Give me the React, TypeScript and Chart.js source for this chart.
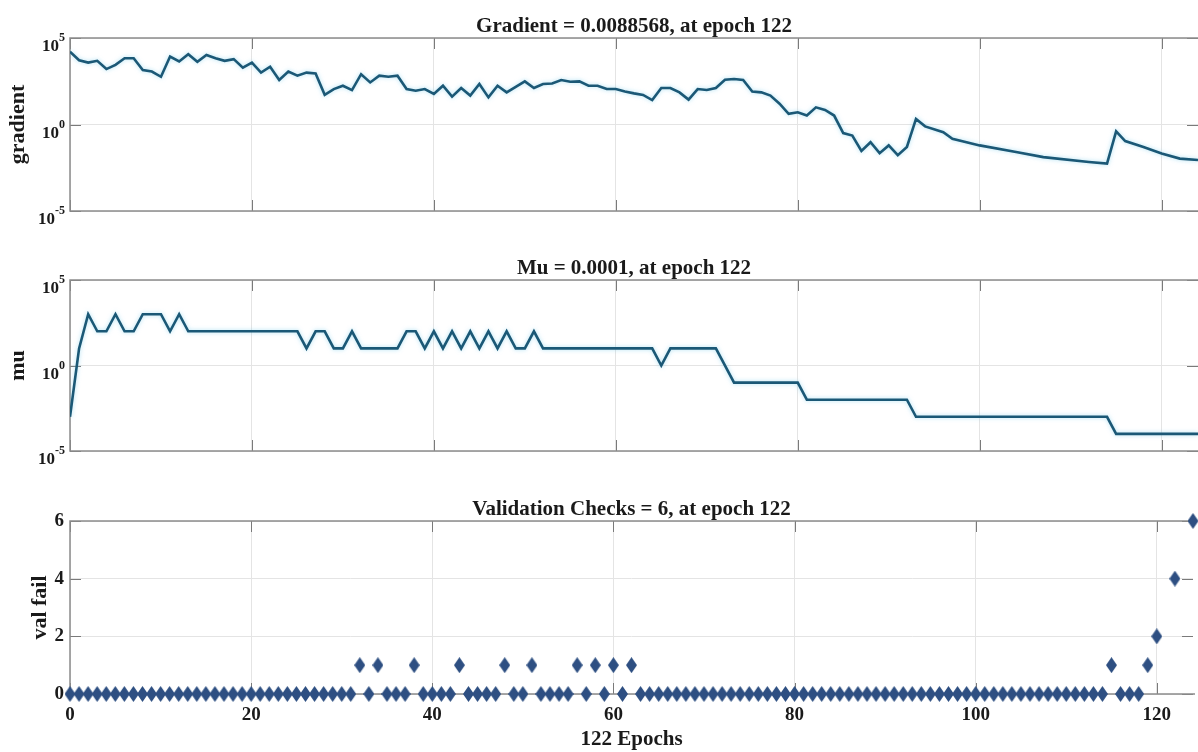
import { useEffect, useRef } from 'react';
import { Chart, registerables } from 'chart.js';

Chart.register(...registerables);

// Shared epoch axis
const xTicks = [0, 20, 40, 60, 80, 100, 120];
const xMin = 0;
const xMax = 124;

// Gradient per epoch (log axis)
const gradEpochs = [
  0, 1, 2, 3, 4, 5, 6, 7, 8, 9, 10, 11, 12, 13, 14, 15, 16, 17, 18, 19,
  20, 21, 22, 23, 24, 25, 26, 27, 28, 29, 30, 31, 32, 33, 34, 35, 36, 37, 38, 39,
  40, 41, 42, 43, 44, 45, 46, 47, 48, 49, 50, 51, 52, 53, 54, 55, 56, 57, 58, 59,
  60, 61, 62, 63, 64, 65, 66, 67, 68, 69, 70, 71, 72, 73, 74, 75, 76, 77, 78, 79,
  80, 81, 82, 83, 84, 85, 86, 87, 88, 89, 90, 91, 92, 93, 94, 96, 97, 100, 104, 107,
  112, 114, 115, 116, 118, 120, 122, 124,
];
const gradValues = [
  16000, 5200, 3800, 4800, 1600, 2800, 6800, 6800, 1400, 1150, 575, 8500, 4400, 11500, 4200, 10500, 6800, 4800, 6000, 1950,
  3800, 1000, 2200, 370, 1150, 660, 1000, 890, 52, 112, 174, 98, 810, 270, 660, 575, 660, 112, 89, 112,
  58, 174, 41, 129, 47, 219, 37, 174, 72, 151, 309, 129, 219, 234, 372, 295, 309, 174, 174, 112,
  112, 81, 63, 51, 26, 129, 129, 72, 27.5, 112, 98, 129, 390, 427, 372, 81, 72, 47, 16, 4.1,
  5.1, 3.3, 9.8, 6.9, 3.3, 0.32, 0.23, 0.03, 0.095, 0.022, 0.062, 0.017, 0.05, 2.1, 0.78, 0.36, 0.15, 0.062, 0.026, 0.013,
  0.0068, 0.0055, 0.4, 0.11, 0.05, 0.021, 0.0107, 0.0088568,
];

// Mu per epoch (log axis)
const muEpochs = [
  0, 1, 2, 3, 4, 5, 6, 7, 8, 10, 11, 12, 13, 25, 26, 27, 28, 29, 30, 31,
  32, 36, 37, 38, 39, 40, 41, 42, 43, 44, 45, 46, 47, 48, 49, 50, 51, 52, 64, 65,
  66, 71, 73, 80, 81, 92, 93, 114, 115, 124,
];
const muValues = [
  1e-3, 1e1, 1e3, 1e2, 1e2, 1e3, 1e2, 1e2, 1e3, 1e3, 1e2, 1e3, 1e2, 1e2, 1e1, 1e2, 1e2, 1e1, 1e1, 1e2,
  1e1, 1e1, 1e2, 1e2, 1e1, 1e2, 1e1, 1e2, 1e1, 1e2, 1e1, 1e2, 1e1, 1e2, 1e1, 1e1, 1e2, 1e1, 1e1, 1e0,
  1e1, 1e1, 1e-1, 1e-1, 1e-2, 1e-2, 1e-3, 1e-3, 1e-4, 1e-4,
];

// Validation failures per epoch
const valEpochs = [
  0, 1, 2, 3, 4, 5, 6, 7, 8, 9, 10, 11, 12, 13, 14, 15, 16, 17, 18, 19,
  20, 21, 22, 23, 24, 25, 26, 27, 28, 29, 30, 31, 32, 33, 34, 35, 36, 37, 38, 39,
  40, 41, 42, 43, 44, 45, 46, 47, 48, 49, 50, 51, 52, 53, 54, 55, 56, 57, 58, 59,
  60, 61, 62, 63, 64, 65, 66, 67, 68, 69, 70, 71, 72, 73, 74, 75, 76, 77, 78, 79,
  80, 81, 82, 83, 84, 85, 86, 87, 88, 89, 90, 91, 92, 93, 94, 95, 96, 97, 98, 99,
  100, 101, 102, 103, 104, 105, 106, 107, 108, 109, 110, 111, 112, 113, 114, 115, 116, 117, 118, 119,
  120, 122, 124,
];
const valFail = [
  0, 0, 0, 0, 0, 0, 0, 0, 0, 0, 0, 0, 0, 0, 0, 0, 0, 0, 0, 0,
  0, 0, 0, 0, 0, 0, 0, 0, 0, 0, 0, 0, 1, 0, 1, 0, 0, 0, 1, 0,
  0, 0, 0, 1, 0, 0, 0, 0, 1, 0, 0, 1, 0, 0, 0, 0, 1, 0, 1, 0,
  1, 0, 1, 0, 0, 0, 0, 0, 0, 0, 0, 0, 0, 0, 0, 0, 0, 0, 0, 0,
  0, 0, 0, 0, 0, 0, 0, 0, 0, 0, 0, 0, 0, 0, 0, 0, 0, 0, 0, 0,
  0, 0, 0, 0, 0, 0, 0, 0, 0, 0, 0, 0, 0, 0, 0, 1, 0, 0, 0, 1,
  2, 4, 6,
];

// Axis ticks and labels
const logTicks = [1e-5, 1, 1e5];
const logTickExponents = ['-5', '0', '5'];
const valTicks = [0, 2, 4, 6];

const plotTitles = [
  'Gradient = 0.0088568, at epoch 122',
  'Mu = 0.0001, at epoch 122',
  'Validation Checks = 6, at epoch 122',
];
const yTitles = ['gradient', 'mu', 'val fail'];
const xTitle = '122 Epochs';

const SERIF = '"Liberation Serif", "Times New Roman", serif';
const LINE_COLOR = '#1b5876';
const MARKER_COLOR = '#2e4f82';
const GRID_COLOR = '#e4e4e4';
const TEXT_COLOR = '#1a1a1a';

function makeDiamond(): HTMLCanvasElement {
  const c = document.createElement('canvas');
  c.width = 11;
  c.height = 16;
  const g = c.getContext('2d')!;
  g.fillStyle = MARKER_COLOR;
  g.beginPath();
  g.moveTo(5.5, 0);
  g.lineTo(11, 8);
  g.lineTo(5.5, 16);
  g.lineTo(0, 8);
  g.closePath();
  g.fill();
  return c;
}

// Box around the plot area with inward tick marks, a centred title and 10^n labels
const axesBox = {
  id: 'axesBox',
  beforeDatasetsDraw(chart: any) {
    const { ctx, chartArea: a, scales } = chart;
    const xs = scales.x;
    const ys = scales.y;
    ctx.save();
    ctx.strokeStyle = '#7a7a7a';
    ctx.lineWidth = 1;
    ctx.beginPath();
    for (const t of xs.ticks) {
      const px = Math.round(xs.getPixelForValue(t.value)) + 0.5;
      ctx.moveTo(px, a.top);
      ctx.lineTo(px, a.top + 11);
      ctx.moveTo(px, a.bottom);
      ctx.lineTo(px, a.bottom - 11);
    }
    for (const t of ys.ticks) {
      const py = Math.round(ys.getPixelForValue(t.value)) + 0.5;
      ctx.moveTo(a.left, py);
      ctx.lineTo(a.left + 11, py);
      ctx.moveTo(a.right, py);
      ctx.lineTo(a.right - 11, py);
    }
    ctx.stroke();
    // left, top and bottom edges of the box (right edge sits on the canvas edge)
    ctx.strokeStyle = '#8c8c8c';
    ctx.lineWidth = 1.5;
    ctx.beginPath();
    ctx.moveTo(a.right + 2, a.top);
    ctx.lineTo(a.left, a.top);
    ctx.lineTo(a.left, a.bottom);
    ctx.lineTo(a.right + 2, a.bottom);
    ctx.stroke();
    ctx.restore();
  },
  beforeDatasetDraw(chart: any, _args: any, opts: any) {
    if (opts.glow) {
      chart.ctx.shadowColor = 'rgba(110, 200, 235, 0.55)';
      chart.ctx.shadowBlur = 4;
    }
  },
  afterDatasetDraw(chart: any) {
    chart.ctx.shadowColor = 'rgba(0,0,0,0)';
    chart.ctx.shadowBlur = 0;
  },
  afterDraw(chart: any, _args: any, opts: any) {
    const { ctx, chartArea: a, scales } = chart;
    ctx.save();
    ctx.fillStyle = TEXT_COLOR;
    if (opts.title) {
      ctx.font = `bold 21px ${SERIF}`;
      ctx.textAlign = 'center';
      ctx.textBaseline = 'alphabetic';
      ctx.fillText(opts.title, (a.left + a.right) / 2, a.top - 6);
    }
    if (opts.logLabels) {
      const ys = scales.y;
      logTicks.forEach((v, i) => {
        const py = ys.getPixelForValue(v);
        const exp = logTickExponents[i];
        ctx.font = `bold 12px ${SERIF}`;
        const ew = ctx.measureText(exp).width;
        const right = a.left - 5;
        ctx.textAlign = 'left';
        ctx.textBaseline = 'alphabetic';
        ctx.fillText(exp, right - ew, py + 3);
        ctx.font = `bold 17px ${SERIF}`;
        ctx.textAlign = 'right';
        ctx.fillText('10', right - ew, py + 13);
      });
    }
    ctx.restore();
  },
};

function xScale(showLabels: boolean) {
  return {
    type: 'linear' as const,
    min: xMin,
    max: xMax,
    afterBuildTicks: (s: any) => {
      s.ticks = xTicks.map((v) => ({ value: v }));
    },
    afterFit: (s: any) => {
      s.height = showLabels ? 58 : 0;
    },
    grid: { color: GRID_COLOR, drawTicks: false },
    border: { display: false },
    ticks: {
      display: showLabels,
      padding: 10,
      color: TEXT_COLOR,
      font: { family: SERIF, size: 19, weight: 'bold' as const },
      maxRotation: 0,
      autoSkip: false,
    },
    title: {
      display: showLabels,
      text: xTitle,
      color: TEXT_COLOR,
      font: { family: SERIF, size: 21, weight: 'bold' as const },
      padding: { top: 0, bottom: 0 },
    },
  };
}

function yTitle(text: string, pad: number) {
  return {
    display: true,
    text,
    color: TEXT_COLOR,
    font: { family: SERIF, size: 22, weight: 'bold' as const },
    padding: { top: pad, bottom: 0 },
  };
}

function logChart(canvas: HTMLCanvasElement, idx: number, epochs: number[], values: number[], padTop: number, padBottom: number) {
  return new Chart(canvas, {
    type: 'line',
    data: {
      datasets: [
        {
          data: epochs.map((e, i) => ({ x: e, y: values[i] })),
          borderColor: LINE_COLOR,
          borderWidth: 2.6,
          pointRadius: 0,
          tension: 0,
          fill: false,
        },
      ],
    },
    options: {
      responsive: false,
      animation: false,
      events: [],
      layout: { padding: { top: padTop, bottom: padBottom, left: 0, right: 0 } },
      plugins: {
        legend: { display: false },
        tooltip: { enabled: false },
        axesBox: { title: plotTitles[idx], logLabels: true, glow: true },
      } as any,
      scales: {
        x: xScale(false),
        y: {
          type: 'logarithmic',
          min: 1e-5,
          max: 1e5,
          afterBuildTicks: (s: any) => {
            s.ticks = logTicks.map((v) => ({ value: v }));
          },
          afterFit: (s: any) => {
            s.width = 70;
          },
          grid: { color: GRID_COLOR, drawTicks: false },
          border: { display: false },
          ticks: { display: false },
          title: yTitle(yTitles[idx], 5),
        },
      } as any,
    },
    plugins: [axesBox],
  });
}

export default function App() {
  const gradRef = useRef<HTMLCanvasElement>(null);
  const muRef = useRef<HTMLCanvasElement>(null);
  const valRef = useRef<HTMLCanvasElement>(null);

  useEffect(() => {
    const gradChart = logChart(gradRef.current!, 0, gradEpochs, gradValues, 38, 29);
    const muChart = logChart(muRef.current!, 1, muEpochs, muValues, 40, 29);
    const valChart = new Chart(valRef.current!, {
      type: 'scatter',
      data: {
        datasets: [
          {
            data: valEpochs.map((e, i) => ({ x: e, y: valFail[i] })),
            pointStyle: makeDiamond(),
            clip: false,
          } as any,
        ],
      },
      options: {
        responsive: false,
        animation: false,
        events: [],
        layout: { padding: { top: 41, bottom: 0, left: 0, right: 0 } },
        plugins: {
          legend: { display: false },
          tooltip: { enabled: false },
          axesBox: { title: plotTitles[2], logLabels: false, glow: false },
        } as any,
        scales: {
          x: xScale(true),
          y: {
            type: 'linear',
            min: 0,
            max: 6,
            afterBuildTicks: (s: any) => {
              s.ticks = valTicks.map((v) => ({ value: v }));
            },
            afterFit: (s: any) => {
              s.width = 70;
            },
            grid: { color: GRID_COLOR, drawTicks: false },
            border: { display: false },
            ticks: {
              padding: 6,
              color: TEXT_COLOR,
              font: { family: SERIF, size: 19, weight: 'bold' },
            },
            title: yTitle(yTitles[2], 27),
          },
        } as any,
      },
      plugins: [axesBox],
    });
    return () => {
      gradChart.destroy();
      muChart.destroy();
      valChart.destroy();
    };
  }, []);

  const canvasStyle = (top: number): React.CSSProperties => ({
    position: 'absolute',
    left: 0,
    top,
    display: 'block',
  });

  return (
    <div style={{ position: 'absolute', left: 0, top: 0, width: 1198, height: 752, background: '#ffffff', overflow: 'hidden' }}>
      <canvas ref={gradRef} width={1198} height={240} style={canvasStyle(0)} />
      <canvas ref={muRef} width={1198} height={240} style={canvasStyle(240)} />
      <canvas ref={valRef} width={1198} height={272} style={canvasStyle(480)} />
    </div>
  );
}
